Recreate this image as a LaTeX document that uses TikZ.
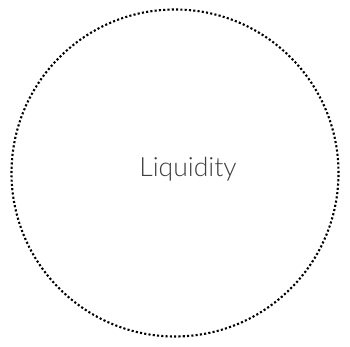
\documentclass[tikz,border=0pt]{standalone}
\usepackage{fontspec}
\newfontfamily\lightfont{Lato Light}
\definecolor{txtgray}{HTML}{404040}
\begin{document}
\begin{tikzpicture}[x=1pt,y=1pt,
  ring/.style={draw=black, line width=2.1pt, dash pattern=on 2.1pt off 2.2pt},
  label/.style={font=\lightfont\fontsize{26.5}{30}\selectfont, text=txtgray}]
\useasboundingbox (0,0) rectangle (350,347);
\node[ring, circle, minimum size=327pt, inner sep=0pt] (c) at (175,174) {};
\node[label] (t) at (188,178) {Liquidity};
\end{tikzpicture}
\end{document}
